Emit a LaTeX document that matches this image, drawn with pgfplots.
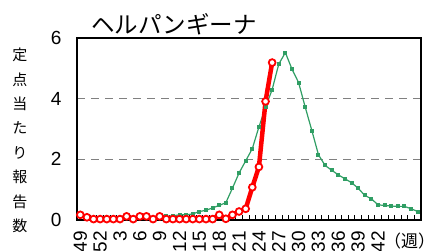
\documentclass[border=0pt]{standalone}
\usepackage{fontspec}
\setmainfont{Liberation Sans}
\newfontfamily\cjk{Noto Sans CJK JP}
\usepackage{pgfplots}
\usepackage{pgfplotstable}
\pgfplotsset{compat=1.18}
\definecolor{gr}{RGB}{48,158,100}
\pgfplotstableread{
x y
0 0.17
1 0.09
2 0.03
3 0.03
4 0.03
5 0.03
6 0.03
7 0.12
8 0.03
9 0.12
10 0.12
11 0.03
12 0.12
13 0.03
14 0.03
15 0.03
16 0.03
17 0.03
18 0.03
19 0.03
20 0.03
21 0.17
22 0.04
23 0.17
24 0.28
25 0.37
26 1.08
27 1.75
28 3.91
29 5.19
}\cur
\pgfplotstableread{
x y
0 0.12
1 0.1
2 0.08
3 0.08
4 0.08
5 0.08
6 0.08
7 0.1
8 0.08
9 0.1
10 0.1
11 0.08
12 0.1
13 0.12
14 0.14
15 0.17
16 0.17
17 0.2
18 0.28
19 0.32
20 0.4
21 0.48
22 0.57
23 1.05
24 1.55
25 1.95
26 2.35
27 3.07
28 3.72
29 4.3
30 5.14
31 5.52
32 4.97
33 4.53
34 3.72
35 2.95
36 2.15
37 1.8
38 1.64
39 1.49
40 1.36
41 1.23
42 1.05
43 0.81
44 0.7
45 0.5
46 0.48
47 0.46
48 0.45
49 0.45
50 0.37
51 0.28
}\prev
\begin{document}
\begin{tikzpicture}[x=1pt,y=1pt]
\begin{axis}[
  at={(77pt,30pt)}, anchor=south west,
  width=344pt, height=182pt, scale only axis,
  xmin=-0.5, xmax=51.5, ymin=0, ymax=6,
  xtick={0,3,...,45},
  xticklabels={49,52,3,6,9,12,15,18,21,24,27,30,33,36,39,42},
  minor xtick={-0.5,0.5,...,51.5},
  ytick={0,2,4,6},
  xtick pos=left, ytick pos=left,
  major tick length=0pt, minor tick length=5pt, tick align=inside,
  minor tick style={black, line width=0.8pt},
  ymajorgrids,
  major grid style={dash pattern=on 8pt off 6pt, line width=1.2pt, color=gray},
  axis line style={black, line width=1.6pt},
  /pgf/number format/assume math mode=true,
  yticklabel style={font=\fontsize{19}{19}\selectfont, xshift=-12pt},
  xticklabel style={font=\fontsize{19}{19}\selectfont, rotate=90, anchor=east, inner xsep=11pt},
  clip=false,
]
\addplot[gr, line width=1.2pt, mark=square*, mark size=1.4pt] table[x=x,y=y] {\prev};
\addplot[red, line width=4.5pt, mark=*, mark size=3.4pt, mark options={fill=white, draw=red, line width=1.8pt}] table[x=x,y=y] {\cur};
\end{axis}
\node[font=\cjk\fontsize{23.5}{23.5}\selectfont, anchor=west, inner sep=0pt] at (91pt,226pt) {ヘルパンギーナ};
\node[font=\cjk\fontsize{15}{24.4}\selectfont, align=center, inner sep=0pt] at (20pt,109.6pt) {定\\点\\当\\た\\り\\報\\告\\数};
\node[font=\cjk\fontsize{17}{17}\selectfont, anchor=west, inner sep=0pt] at (384pt,9pt) {（週）};
\pgfresetboundingbox
\path[use as bounding box] (0,0) rectangle (424pt,250pt);
\end{tikzpicture}
\end{document}
